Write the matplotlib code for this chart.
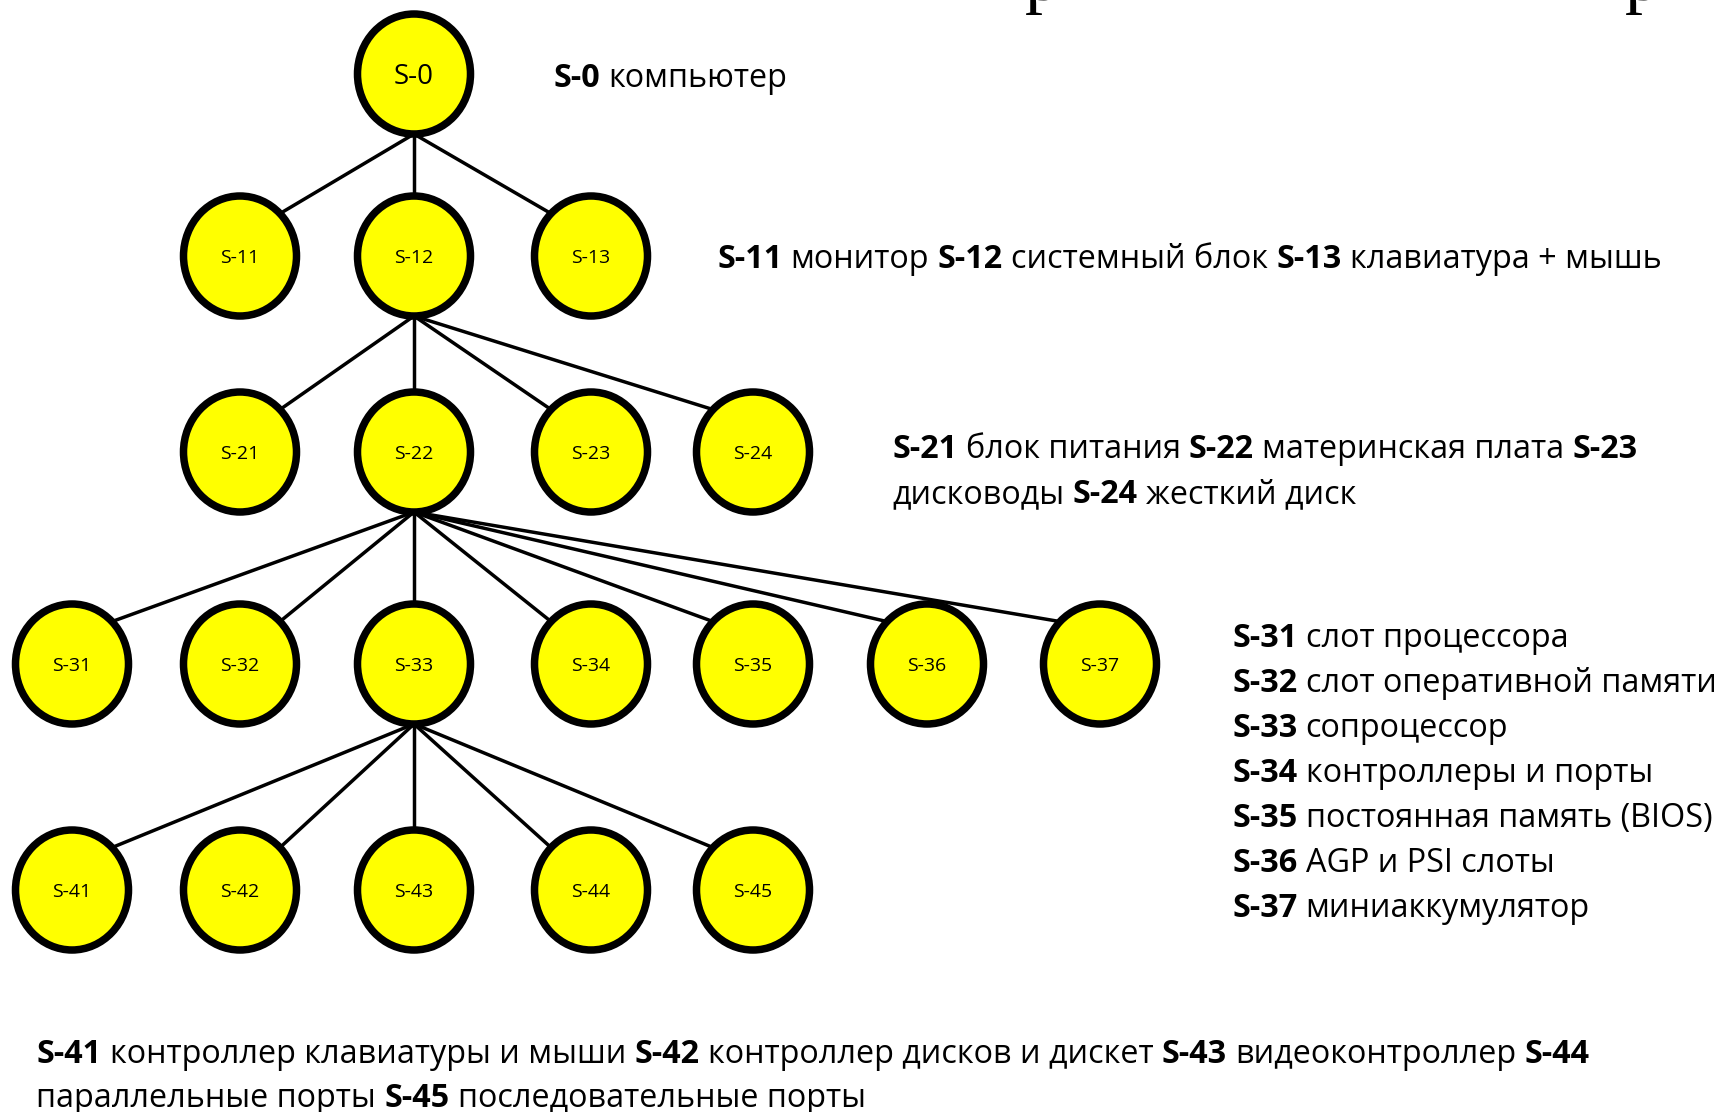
import matplotlib
matplotlib.use('Agg')
import matplotlib.pyplot as plt
from matplotlib.patches import Ellipse
import numpy as np

plt.rcParams['font.family'] = ['Open Sans', 'DejaVu Sans']

W, H = 1717, 1112

# tree: node label and its parent
nodes = ['S-0',
         'S-11', 'S-12', 'S-13',
         'S-21', 'S-22', 'S-23', 'S-24',
         'S-31', 'S-32', 'S-33', 'S-34', 'S-35', 'S-36', 'S-37',
         'S-41', 'S-42', 'S-43', 'S-44', 'S-45']
parents = [None,
           'S-0', 'S-0', 'S-0',
           'S-12', 'S-12', 'S-12', 'S-12',
           'S-22', 'S-22', 'S-22', 'S-22', 'S-22', 'S-22', 'S-22',
           'S-33', 'S-33', 'S-33', 'S-33', 'S-33']

# descriptions, each line is a list of (text, bold)
desc_top = [[('S-0', True), ('компьютер', False)]]
desc_l1 = [[('S-11', True), ('монитор', False), ('S-12', True), ('системный блок', False),
            ('S-13', True), ('клавиатура + мышь', False)]]
desc_l2 = [[('S-21', True), ('блок питания', False), ('S-22', True), ('материнская плата', False),
            ('S-23', True)],
           [('дисководы', False), ('S-24', True), ('жесткий диск', False)]]
desc_l3 = [[('S-31', True), ('слот процессора', False)],
           [('S-32', True), ('слот оперативной памяти', False)],
           [('S-33', True), ('сопроцессор', False)],
           [('S-34', True), ('контроллеры и порты', False)],
           [('S-35', True), ('постоянная память (BIOS)', False)],
           [('S-36', True), ('AGP и PSI слоты', False)],
           [('S-37', True), ('миниаккумулятор', False)]]
desc_l4 = [[('S-41', True), ('контроллер клавиатуры и мыши', False), ('S-42', True),
            ('контроллер дисков и дискет', False), ('S-43', True), ('видеоконтроллер', False),
            ('S-44', True)],
           [('параллельные порты', False), ('S-45', True), ('последовательные порты', False)]]

# layout (pixels)
col_x = {'S-0': 414, 'S-11': 240, 'S-12': 414, 'S-13': 591,
         'S-21': 240, 'S-22': 414, 'S-23': 591, 'S-24': 753,
         'S-31': 72, 'S-32': 240, 'S-33': 414, 'S-34': 591, 'S-35': 753, 'S-36': 927, 'S-37': 1100,
         'S-41': 72, 'S-42': 240, 'S-43': 414, 'S-44': 591, 'S-45': 753}
level_y = [74, 256, 452, 664, 890]
rx, ry = 56.5, 60

def node_level(n):
    if n == 'S-0':
        return 0
    return int(n[2])

pos = {n: (col_x[n], level_y[node_level(n)]) for n in nodes}

fig = plt.figure(figsize=(W / 100, H / 100), dpi=100)
ax = fig.add_axes([0, 0, 1, 1])
ax.set_xlim(0, W)
ax.set_ylim(H, 0)
ax.axis('off')

# connectors: from bottom of parent to the facing connection point of child
c45 = np.cos(np.pi / 4)
for n, p in zip(nodes, parents):
    if p is None:
        continue
    px, py = pos[p]
    cx, cy = pos[n]
    if cx == px:
        ex, ey = cx, cy - ry
    elif cx < px:
        ex, ey = cx + rx * c45, cy - ry * c45
    else:
        ex, ey = cx - rx * c45, cy - ry * c45
    ax.plot([px, ex], [py + ry, ey], color='black', lw=2.5, solid_capstyle='butt', zorder=1)

for n in nodes:
    x, y = pos[n]
    ax.add_patch(Ellipse((x, y), 2 * rx, 2 * ry, facecolor='#ffff00', edgecolor='black',
                         lw=5.4, zorder=2))
    fs = 20 if n == 'S-0' else 14
    # baseline placed so the cap height is centred in the node
    ax.text(x, y + 0.714 * fs * 100 / 72 / 2, n, fontsize=fs, ha='center', va='baseline', zorder=3)

renderer = fig.canvas.get_renderer()


def text_width(s, fs, bold):
    t = ax.text(0, 0, s, fontsize=fs, fontweight='bold' if bold else 'normal')
    w = t.get_window_extent(renderer).width
    t.remove()
    return w


def draw_lines(lines, x0, y0, dy, fs):
    sp = text_width('x x', fs, False) - text_width('xx', fs, False)
    for i, segs in enumerate(lines):
        x = x0
        for s, b in segs:
            t = ax.text(x, y0 + i * dy, s, fontsize=fs, ha='left', va='baseline',
                        fontweight='bold' if b else 'normal')
            x += t.get_window_extent(renderer).width + sp


FS = 23.3
draw_lines(desc_top, 553, 87, 45, FS)
draw_lines(desc_l1, 717, 268, 45, FS)
draw_lines(desc_l2, 892, 458, 45, FS)
draw_lines(desc_l3, 1232, 647, 45, FS)
draw_lines(desc_l4, 36, 1063, 44, FS)

# descenders of the cut-off slide title above
for x in [1043, 1643]:
    ax.text(x, 0, 'р', fontsize=52, family='Liberation Serif', ha='center', va='baseline')

fig.savefig('out.png', dpi=100)
